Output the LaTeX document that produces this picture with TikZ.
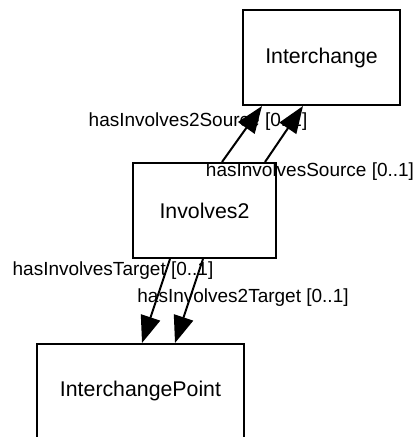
\documentclass[tikz,border=0pt]{standalone}
\usepackage{fontspec}
\setmainfont{Liberation Sans}
\usetikzlibrary{arrows.meta,positioning}
\definecolor{UmlInk}{HTML}{000000}
\newcommand{\classbox}[5]{%
  \node[draw=UmlInk,line width=2bp,inner sep=0pt,minimum width=#3,
        minimum height=#4,font=\fontsize{21.3bp}{25bp}\selectfont,#5] (#1)
        {#2};%
}
\tikzset{
  rolelabel/.style={inner sep=0pt,text=UmlInk,font=\fontsize{19bp}{23bp}\selectfont},
  assoc/.style={-{Triangle[length=27bp,width=20bp]},draw=UmlInk,line width=2bp}
}

\begin{document}
\begin{tikzpicture}[x=1bp,y=-1bp]
    \useasboundingbox (0,0) rectangle (417,437);
    \node[rolelabel] (srcTwo) at (198,122) {hasInvolves2Source [0..1]};
    \node[rolelabel] (srcOne) at (310,172) {hasInvolvesSource [0..1]};
    \node[rolelabel] (tgtOne) at (113,271) {hasInvolvesTarget [0..1]};
    \node[rolelabel] (tgtTwo) at (243,298) {hasInvolves2Target [0..1]};
    \classbox{interchange}{Interchange}{157bp}{95bp}{at={(321.5,57.5)}}
    \classbox{involves}{Involves2}{143bp}{95bp}{at={(204.5,210.5)}}
    \classbox{point}{InterchangePoint}{207bp}{94bp}{at={(140.5,391)}}
    \draw[assoc] ([xshift=17.5bp]involves.north) -- ([xshift=-59.5bp]interchange.south);
    \draw[assoc] ([xshift=60.5bp]involves.north) -- ([xshift=-18.5bp]interchange.south);
    \draw[assoc] ([xshift=-34.5bp]involves.south) -- ([xshift=1.5bp]point.north);
    \draw[assoc] ([xshift=-1.5bp]involves.south) -- ([xshift=34.5bp]point.north);
  \end{tikzpicture}
\end{document}
